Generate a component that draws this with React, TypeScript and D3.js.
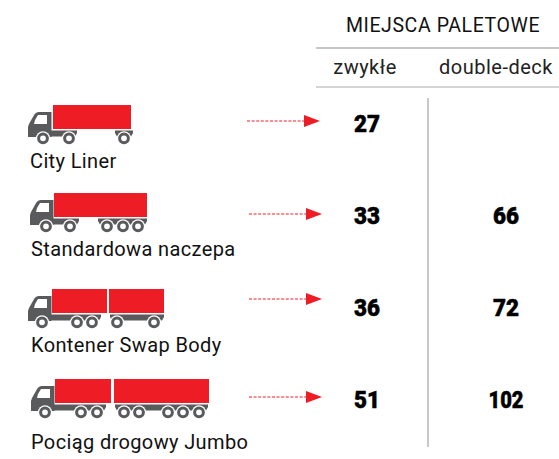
import React from "react";
import * as d3 from "d3";

const headerTitle = "MIEJSCA PALETOWE";
const columnNames = ["zwykłe", "double-deck"];
const vehicles = ["City Liner", "Standardowa naczepa", "Kontener Swap Body", "Pociąg drogowy Jumbo"];
const regularPallets = [27, 33, 36, 51];
const doubleDeckPallets: (number | null)[] = [null, 66, 72, 102];

// Icon and row layout (not data)
const FONT = "Roboto, 'Noto Sans', sans-serif";
const RED = "#ee1c25";
const GREY = "#595a5c";
const iconLayouts = [
  { x: 28, top: 105, labelY: 168, labelX: 30, arrowY: 121, arrowX: 247, boxes: [[25, 78]], chassis: [[24, 49], [87, 105]], wheels: [15, 41, 96] },
  { x: 30, top: 193, labelY: 256, labelX: 31, arrowY: 214, arrowX: 249, boxes: [[24, 93]], chassis: [[24, 49], [68, 117]], wheels: [16, 40, 77, 93, 108] },
  { x: 28, top: 289, labelY: 352, labelX: 31, arrowY: 299, arrowX: 249, boxes: [[24, 55], [81, 55]], chassis: [[24, 73], [82, 136]], wheels: [14, 49, 64, 89, 126] },
  { x: 31, top: 379, labelY: 449, labelX: 31, arrowY: 397, arrowX: 249, boxes: [[24, 56], [83, 95]], chassis: [[24, 75], [84, 177]], wheels: [14, 50, 66, 93, 108, 137, 152, 168] },
];

const WIDTH = 559;
const HEIGHT = 459;
const rowY = d3.scalePoint<string>().domain(vehicles).range([132, 408]);
const colX = d3.scalePoint<string>().domain(columnNames).range([367, 506]);
const headerX = d3.scalePoint<string>().domain(columnNames).range([365, 496]);

function Truck({ layout }: { layout: (typeof iconLayouts)[number] }) {
  const h = 24;
  const cab = d3.path();
  cab.moveTo(23.5, 7);
  cab.lineTo(11, 7);
  cab.quadraticCurveTo(7.5, 7, 5.5, 11);
  cab.lineTo(1, 19);
  cab.lineTo(0, 22);
  cab.lineTo(0, 32);
  cab.lineTo(23.5, 32);
  cab.closePath();
  const win = d3.path();
  win.moveTo(10, 10);
  win.lineTo(19, 10);
  win.lineTo(19, 19);
  win.lineTo(6, 19);
  win.lineTo(7, 15);
  win.closePath();
  return (
    <g transform={`translate(${layout.x},${layout.top})`}>
      <path d={cab.toString()} fill={GREY} />
      <path d={win.toString()} fill="#fff" />
      {layout.chassis.map(([a, b], i) => (
        <path
          key={i}
          d={`M${i === 0 ? 0 : a},${h + 1.5}H${b}V${h + 4}L${b - 2},${h + 7.5}H${i === 0 ? 0 : a + 2}L${i === 0 ? 0 : a},${h + 4}Z`}
          fill={GREY}
        />
      ))}
      {layout.boxes.map(([a, w], i) => (
        <rect key={i} x={a} y={0} width={w} height={h} fill={RED} />
      ))}
      {layout.wheels.map((cx, i) => (
        <g key={i}>
          <circle cx={cx} cy={h + 9.3} r={7} fill="#fff" />
          <circle cx={cx} cy={h + 9.3} r={4.4} fill="#fff" stroke={GREY} strokeWidth={3} />
        </g>
      ))}
    </g>
  );
}

const numberProps = {
  textAnchor: "middle" as const,
  fontSize: 24,
  fontWeight: 900,
  fill: "#000",
  stroke: "#000",
  strokeWidth: 0.5,
  lengthAdjust: "spacingAndGlyphs" as const,
};

const numberWidth = (v: number) => (String(v).length === 2 ? 26 : 35);

export default function App() {
  return (
    <svg
      width={WIDTH}
      height={HEIGHT}
      viewBox={`0 0 ${WIDTH} ${HEIGHT}`}
      style={{ position: "absolute", left: 0, top: 0, background: "#fff", fontFamily: FONT }}
    >
      <text x={443} y={32} textAnchor="middle" fontSize={19.5} letterSpacing={0.6} fill="#111">{headerTitle}</text>
      <line x1={316} x2={559} y1={48} y2={48} stroke="#8f8f8f" strokeWidth={1.2} />
      <line x1={316} x2={559} y1={87} y2={87} stroke="#ababab" strokeWidth={1.2} />
      {columnNames.map((c) => (
        <text key={c} x={headerX(c)} y={74} textAnchor="middle" fontSize={20} letterSpacing={0.5} fill="#222">{c}</text>
      ))}
      <line x1={428} x2={428} y1={98} y2={447} stroke="#a3a3a3" strokeWidth={1.2} />
      {vehicles.map((v, i) => {
        const l = iconLayouts[i];
        const y = rowY(v)!;
        const reg = regularPallets[i];
        const dd = doubleDeckPallets[i];
        return (
          <g key={v}>
            <Truck layout={l} />
            <text x={l.labelX} y={l.labelY} fontSize={20} letterSpacing={0.37} fill="#111">{v}</text>
            <line x1={l.arrowX} x2={l.arrowX + 58} y1={l.arrowY} y2={l.arrowY} stroke={RED} strokeWidth={1} strokeDasharray="3 1.6" />
            <path
              d={`M${l.arrowX + 57},${l.arrowY - 6}L${l.arrowX + 73},${l.arrowY}L${l.arrowX + 57},${l.arrowY + 6}Z`}
              fill={RED}
            />
            <text x={colX(columnNames[0])} y={y} textLength={numberWidth(reg)} {...numberProps}>{reg}</text>
            {dd !== null && (
              <text x={colX(columnNames[1])} y={y} textLength={numberWidth(dd)} {...numberProps}>{dd}</text>
            )}
          </g>
        );
      })}
    </svg>
  );
}
